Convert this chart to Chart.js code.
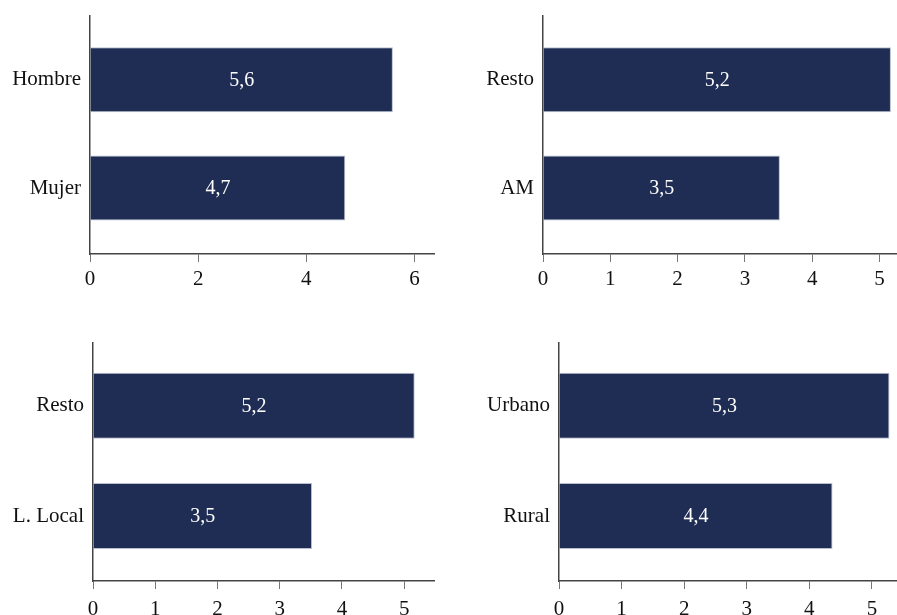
<!DOCTYPE html>
<html>
<head>
<meta charset="utf-8">
<script src="https://cdn.jsdelivr.net/npm/chart.js@4"></script>
<style>
  body { margin: 0; background: #fff; }
  .box { position: absolute; }
</style>
</head>
<body>
<div class="box" style="left:0;top:0;width:448px;height:300px"><canvas id="c1"></canvas></div>
<div class="box" style="left:450px;top:0;width:447px;height:300px"><canvas id="c2"></canvas></div>
<div class="box" style="left:0;top:300px;width:448px;height:315px"><canvas id="c3"></canvas></div>
<div class="box" style="left:450px;top:300px;width:447px;height:315px"><canvas id="c4"></canvas></div>
<script>
// data for the four panels
var sexoLabels = ["Hombre", "Mujer"];
var sexoValues = [5.6, 4.72];

var amLabels = ["Resto", "AM"];
var amValues = [5.17, 3.52];

var localLabels = ["Resto", "L. Local"];
var localValues = [5.17, 3.52];

var zonaLabels = ["Urbano", "Rural"];
var zonaValues = [5.28, 4.37];

var barColor = "#1f2d54";
var axisColor = "#444444";
var serif = "'Liberation Serif', 'DejaVu Serif', serif";

// writes the value in the middle of each bar, with a decimal comma
var valueLabels = {
  id: "valueLabels",
  afterDatasetsDraw: function(chart) {
    var ctx = chart.ctx;
    var meta = chart.getDatasetMeta(0);
    var vals = chart.data.datasets[0].data;
    ctx.save();
    ctx.fillStyle = "#ffffff";
    ctx.font = "20px " + serif;
    ctx.textAlign = "center";
    ctx.textBaseline = "middle";
    meta.data.forEach(function(bar, i) {
      var v = vals[i].x.toFixed(1).replace(".", ",");
      ctx.fillText(v, (bar.base + bar.x) / 2, bar.y + 1);
    });
    ctx.restore();
  }
};

function panel(id, labels, values, opts) {
  var pts = values.map(function(v, i) { return {x: v, y: i}; });
  new Chart(id, {
    type: "bar",
    data: {
      datasets: [{
        data: pts,
        backgroundColor: barColor,
        borderColor: "#b9bfcc",
        borderWidth: 1,
        barPercentage: 0.6,
        categoryPercentage: 1
      }]
    },
    options: {
      indexAxis: "y",
      animation: false,
      responsive: true,
      maintainAspectRatio: false,
      layout: {padding: {top: opts.top, right: opts.right, left: 0, bottom: 0}},
      plugins: {legend: {display: false}, tooltip: {enabled: false}},
      scales: {
        x: {
          type: "linear",
          min: 0,
          max: opts.xmax,
          grid: {drawOnChartArea: false, drawTicks: true, tickLength: 8, color: "#777777"},
          border: {display: true, color: axisColor, width: 1.5},
          ticks: {
            stepSize: opts.step,
            includeBounds: false,
            color: "#111111",
            padding: opts.tpad,
            font: {family: serif, size: 21}
          },
          afterFit: function(s) { s.height = opts.xh; }
        },
        y: {
          type: "linear",
          reverse: true,
          offset: false,
          min: opts.ymin,
          max: opts.ymax,
          grid: {display: true, offset: false, drawOnChartArea: false, drawTicks: false},
          border: {display: true, color: axisColor, width: 1.5},
          afterBuildTicks: function(s) {
            s.ticks = labels.map(function(l, i) { return {value: i}; });
          },
          ticks: {
            color: "#111111",
            padding: 9,
            font: {family: serif, size: 21},
            callback: function(v) { return labels[v]; }
          },
          afterFit: function(s) {
            s.width = opts.yw;
            s.paddingTop = 0;
            s.paddingBottom = 0;
          }
        }
      }
    },
    plugins: [valueLabels]
  });
}

panel("c1", sexoLabels, sexoValues, {top: 16, right: 14, xmax: 6.36, step: 2, xh: 46, yw: 90, ymin: -0.59, ymax: 1.61, tpad: 5});
panel("c2", amLabels, amValues, {top: 16, right: 0, xmax: 5.26, step: 1, xh: 46, yw: 93, ymin: -0.59, ymax: 1.61, tpad: 5});
panel("c3", localLabels, localValues, {top: 43, right: 14, xmax: 5.48, step: 1, xh: 34, yw: 93, ymin: -0.57, ymax: 1.59, tpad: 8});
panel("c4", zonaLabels, zonaValues, {top: 43, right: 0, xmax: 5.4, step: 1, xh: 34, yw: 109, ymin: -0.57, ymax: 1.59, tpad: 8});
</script>
</body>
</html>
